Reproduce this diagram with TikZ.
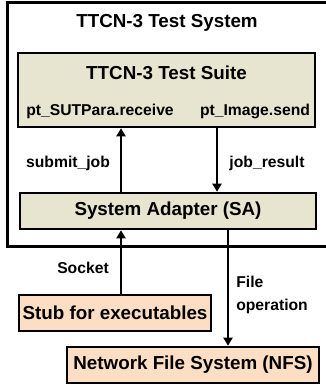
\documentclass[tikz,border=0pt]{standalone}
\usepackage{fontspec}
\setmainfont{Liberation Sans}
\usepackage{tikz}
\usetikzlibrary{positioning,arrows.meta,calc}

\definecolor{suitefill}{RGB}{231,229,207}
\definecolor{stubfill}{RGB}{252,222,197}

\begin{document}
\begin{tikzpicture}[x=1pt,y=-1pt,
    ->, >={Triangle[length=8pt,width=9pt]}, line width=2.6pt,
    bigtxt/.style={font=\fontsize{18.8}{22}\selectfont\bfseries, inner sep=0pt},
    smalltxt/.style={font=\fontsize{15.7}{23}\selectfont\bfseries, inner sep=0pt},
    blockbox/.style={rectangle, draw=black, line width=2.6pt, inner sep=0pt}]
  \useasboundingbox (0,0) rectangle (325,385);
  % test system frame
  \node [blockbox, fill=white, minimum width=333pt, minimum height=244pt] (system) at (174,124.5) {};
  \node [bigtxt] (systitle) at (167,23) {TTCN-3 Test System};
  % test suite
  \node [blockbox, fill=suitefill, minimum width=297pt, minimum height=74pt] (suite) at (166.5,90) {};
  \node [bigtxt] (suitetitle) at (166.5,73) {TTCN-3 Test Suite};
  \node [smalltxt] (recv) at (100,111) {pt\_SUTPara.receive};
  \node [smalltxt] (send) at (255,111) {pt\_Image.send};
  % adapter
  \node [blockbox, fill=suitefill, minimum width=296pt, minimum height=36pt, bigtxt] (sa) at (168,211) {System Adapter (SA)};
  % outside
  \node [blockbox, fill=stubfill, minimum width=192pt, minimum height=36pt, bigtxt] (stub) at (115,313) {Stub for executables};
  \node [blockbox, fill=stubfill, minimum width=252pt, minimum height=36pt, bigtxt] (nfs) at (193,365) {Network File System (NFS)};
  \coordinate (upx) at (121,0);
  \coordinate (downx) at (217,0);
  \coordinate (filex) at (228,0);
  \path
    (sa.north -| upx) edge (suite.south -| upx)
    (suite.south -| downx) edge (sa.north -| downx)
    (stub.north -| upx) edge (sa.south -| upx)
    (sa.south -| filex) edge (nfs.north -| filex);
  \node [smalltxt] (submit) at (68,163) {submit\_job};
  \node [smalltxt] (result) at (267,163) {job\_result};
  \node [smalltxt] (socket) at (83,268) {Socket};
  \node [smalltxt, anchor=west, align=left] (fileop) at (235,294.5) {File\\operation};
\end{tikzpicture}
\end{document}
